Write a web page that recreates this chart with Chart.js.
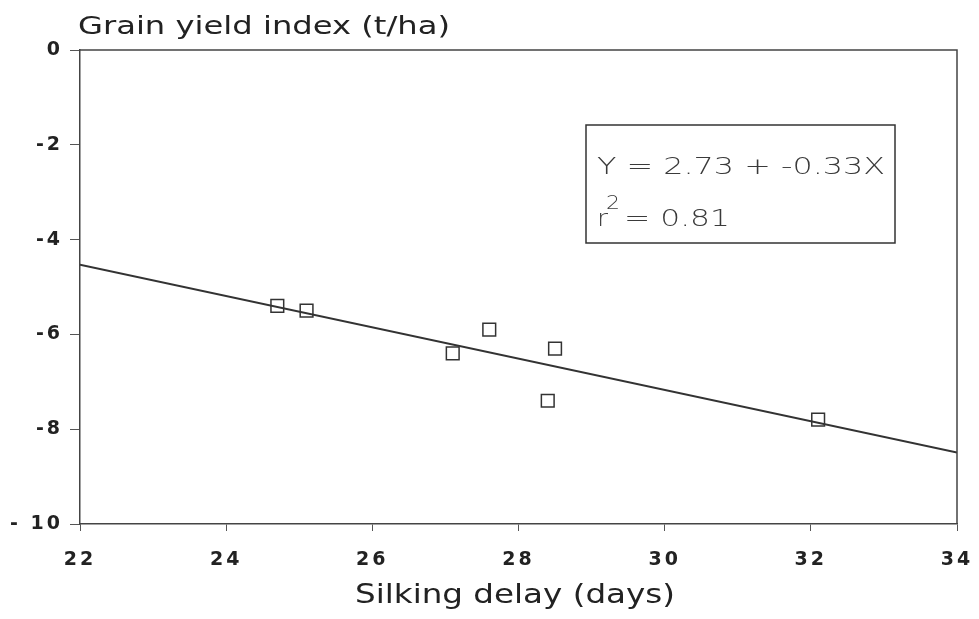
<!DOCTYPE html>
<html>
<head>
<meta charset="utf-8">
<script src="https://cdn.jsdelivr.net/npm/chart.js@4.4.0/dist/chart.umd.min.js"></script>
<style>
html, body { margin: 0; padding: 0; background: #fff; }
#wrap { width: 979px; height: 619px; }
</style>
</head>
<body>
<div id="wrap"><canvas id="chart"></canvas></div>
<script>
// data
var delayDays = [24.7, 25.1, 27.1, 27.6, 28.5, 28.4, 32.1];
var yieldIndex = [-5.4, -5.5, -6.4, -5.9, -6.3, -7.4, -7.8];
var fitX = [22, 34];
var fitY = [-4.53, -8.49];
var xTicks = [22, 24, 26, 28, 30, 32, 34];
var yTicks = [0, -2, -4, -6, -8, -10];
var yTickLabels = ["0", "-2", "-4", "-6", "-8", "- 10"];
var yTitle = "Grain yield index (t/ha)";
var xTitle = "Silking delay (days)";
var eqText = "Y = 2.73 + -0.33X";
var r2Text = "= 0.81";

var ink = "#222";

function stretchText(ctx, text, x, y, width, font, color) {
    ctx.save();
    ctx.letterSpacing = "0px";
    ctx.font = font;
    ctx.textAlign = "left";
    ctx.textBaseline = "alphabetic";
    ctx.fillStyle = color || ink;
    var w = ctx.measureText(text).width;
    ctx.translate(x, y);
    ctx.scale(width / w, 1);
    ctx.fillText(text, 0, 0);
    ctx.restore();
}

var framePlugin = {
    id: "frame",
    beforeDraw: function(chart) {
        chart.ctx.letterSpacing = "3px";
    },
    afterDraw: function(chart) {
        var ctx = chart.ctx;
        var a = chart.chartArea;
        ctx.letterSpacing = "0px";
        // top and right sides of the box
        ctx.save();
        ctx.strokeStyle = "#444";
        ctx.lineWidth = 1.5;
        ctx.beginPath();
        ctx.moveTo(a.left, a.top);
        ctx.lineTo(a.right, a.top);
        ctx.lineTo(a.right, a.bottom);
        ctx.stroke();
        ctx.restore();

        // axis titles
        stretchText(ctx, yTitle, a.left - 2, 34, 372, "25px 'DejaVu Sans'");
        stretchText(ctx, xTitle, 355, 603, 320, "27px 'DejaVu Sans'");

        // equation box
        ctx.save();
        ctx.strokeStyle = "#333";
        ctx.lineWidth = 1.5;
        ctx.strokeRect(586, 125, 309, 118);
        ctx.restore();
        var light = "#3a3a3a";
        stretchText(ctx, eqText, 597, 174, 288, "200 23px 'DejaVu Sans'", light);
        stretchText(ctx, "r", 597, 226, 11, "200 23px 'DejaVu Sans'", light);
        stretchText(ctx, "2", 606, 209, 14, "200 20px 'DejaVu Sans'", light);
        stretchText(ctx, r2Text, 624, 226, 106, "200 23px 'DejaVu Sans'", light);
    }
};

var tickFont = { family: "'DejaVu Sans'", size: 19, weight: "bold" };

new Chart(document.getElementById("chart"), {
    type: "scatter",
    data: {
        datasets: [{
            type: "line",
            data: fitX.map(function(x, i) { return { x: x, y: fitY[i] }; }),
            borderColor: "#333",
            borderWidth: 2,
            pointRadius: 0,
            fill: false,
            order: 2
        }, {
            data: delayDays.map(function(x, i) { return { x: x, y: yieldIndex[i] }; }),
            pointStyle: "rect",
            pointRadius: 9,
            borderColor: "#333",
            borderWidth: 1.5,
            backgroundColor: "rgba(0,0,0,0)",
            order: 1
        }]
    },
    options: {
        responsive: true,
        maintainAspectRatio: false,
        animation: false,
        layout: { padding: { left: 0, right: 22, top: 50, bottom: 0 } },
        plugins: {
            legend: { display: false },
            tooltip: { enabled: false }
        },
        scales: {
            x: {
                type: "linear",
                min: 22,
                max: 34,
                afterBuildTicks: function(axis) {
                    axis.ticks = xTicks.map(function(v) { return { value: v }; });
                },
                afterFit: function(axis) {
                    axis.height = 95;
                    axis.paddingLeft = 0;
                    axis.paddingRight = 0;
                },
                grid: { drawOnChartArea: false, drawTicks: true, tickLength: 7, color: "#555", lineWidth: 1 },
                border: { display: true, color: "#444", width: 1.5 },
                ticks: { font: tickFont, color: ink, padding: 18, maxRotation: 0 }
            },
            y: {
                type: "linear",
                min: -10,
                max: 0,
                afterBuildTicks: function(axis) {
                    axis.ticks = yTicks.map(function(v) { return { value: v }; });
                },
                afterFit: function(axis) {
                    axis.width = 80;
                    axis.paddingTop = 0;
                    axis.paddingBottom = 0;
                },
                grid: { drawOnChartArea: false, drawTicks: true, tickLength: 10, color: "#555", lineWidth: 1 },
                border: { display: true, color: "#444", width: 1.5 },
                ticks: {
                    font: tickFont,
                    color: ink,
                    padding: 7,
                    callback: function(value) {
                        var i = yTicks.indexOf(value);
                        return i >= 0 ? yTickLabels[i] : "";
                    }
                }
            }
        }
    },
    plugins: [framePlugin]
});
</script>
</body>
</html>
